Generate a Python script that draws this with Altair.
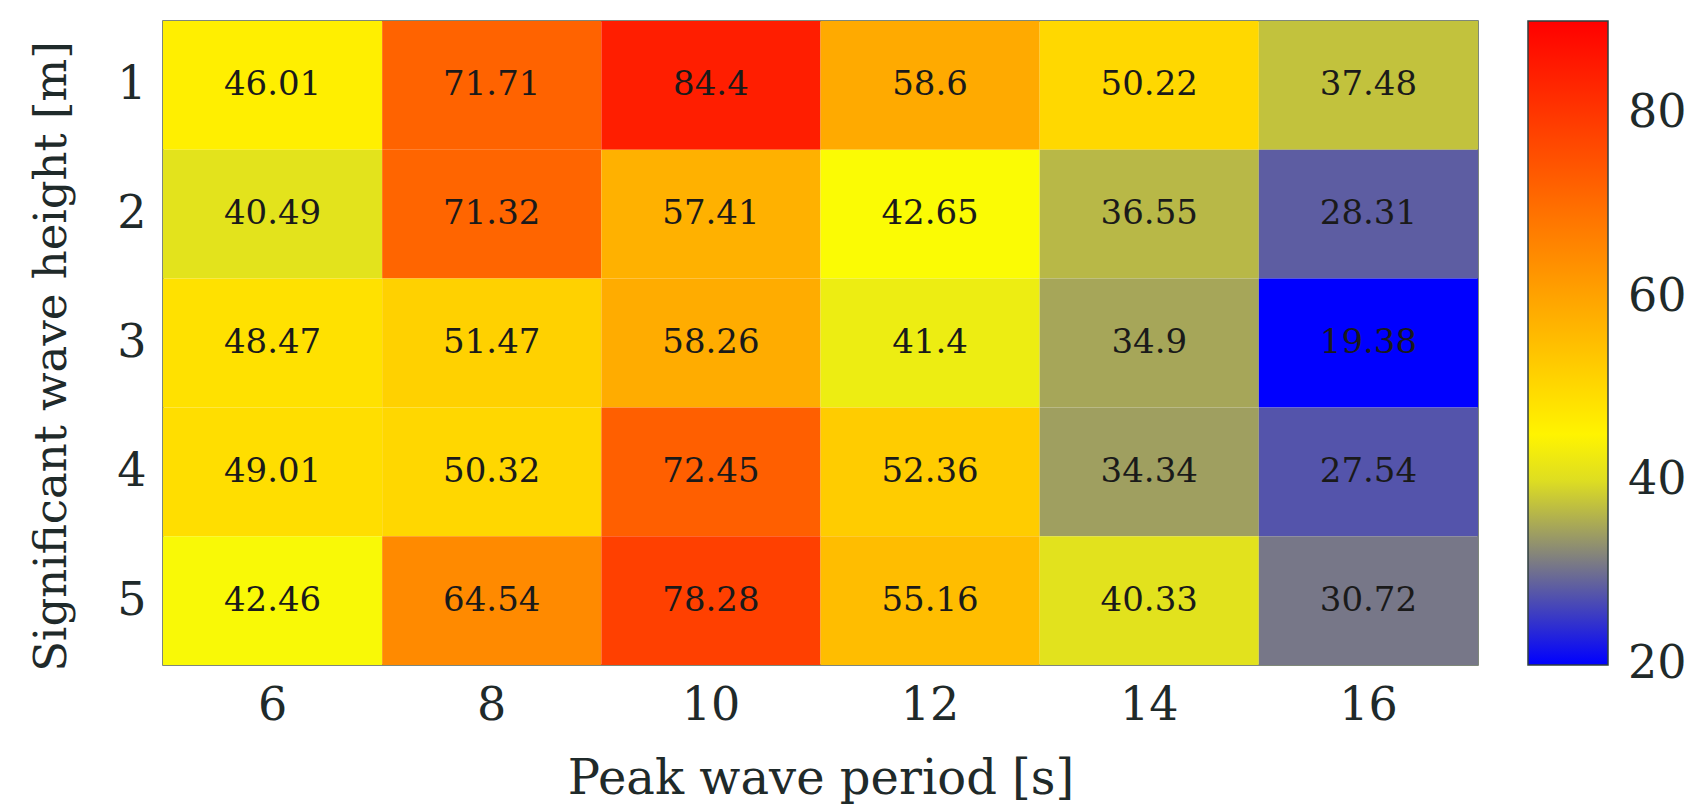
import altair as alt
import pandas as pd

periods = [6, 8, 10, 12, 14, 16]
heights = [1, 2, 3, 4, 5]
values = [
    [46.01, 71.71, 84.4, 58.6, 50.22, 37.48],
    [40.49, 71.32, 57.41, 42.65, 36.55, 28.31],
    [48.47, 51.47, 58.26, 41.4, 34.9, 19.38],
    [49.01, 50.32, 72.45, 52.36, 34.34, 27.54],
    [42.46, 64.54, 78.28, 55.16, 40.33, 30.72],
]
legend_ticks = [20, 40, 60, 80]

rows = []
for i, h in enumerate(heights):
    for j, p in enumerate(periods):
        v = values[i][j]
        rows.append({"period": p, "height": h, "value": v, "label": f"{v:g}"})
df = pd.DataFrame(rows)

FONT = "'DejaVu Serif', serif"
TXT = "#1f2a2a"

base = alt.Chart(df).encode(
    x=alt.X("period:O", sort=periods,
            axis=alt.Axis(title="Peak wave period [s]", labelAngle=0, ticks=False, domain=False,
                          labelFontSize=46, labelFont=FONT, labelColor=TXT, labelPadding=18,
                          titleFontSize=48, titleFont=FONT, titleColor=TXT, titleFontWeight="normal",
                          titleY=128, titleBaseline="alphabetic")),
    y=alt.Y("height:O", sort=heights,
            axis=alt.Axis(title="Significant wave height [m]", ticks=False, domain=False,
                          labelFontSize=46, labelFont=FONT, labelColor=TXT, labelPadding=17,
                          titleFontSize=45, titleFont=FONT, titleColor=TXT, titleFontWeight="normal",
                          titleX=-112, titleY=335, titleBaseline="middle")),
)

heat = base.mark_rect().encode(
    color=alt.Color("value:Q",
                    scale=alt.Scale(domain=[19.9, 43, 90], range=["#0000ff", "#ffff00", "#ff0000"],
                                    interpolate="rgb"),
                    legend=alt.Legend(title=None, orient="right", offset=50, padding=0,
                                      gradientLength=644, gradientThickness=80,
                                      gradientStrokeColor="#2f3f3f", gradientStrokeWidth=1.5,
                                      values=legend_ticks, labelOverlap=False,
                                      labelFontSize=46, labelFont=FONT, labelColor=TXT,
                                      labelOffset=20, labelBaseline="middle"))
)

text = base.mark_text(font=FONT, fontSize=34, color="#1a1a1a").encode(text="label:N")

chart = (heat + text).properties(
    width=1315, height=644,
    padding={"left": 163, "top": 21, "right": 212, "bottom": 146},
    autosize=alt.AutoSizeParams(type="none"),
).configure_view(stroke="#55624f", strokeWidth=1.5).configure_scale(bandPaddingInner=0, bandPaddingOuter=0)

chart.save("out.html", embed_options={"renderer": "svg", "actions": False})
